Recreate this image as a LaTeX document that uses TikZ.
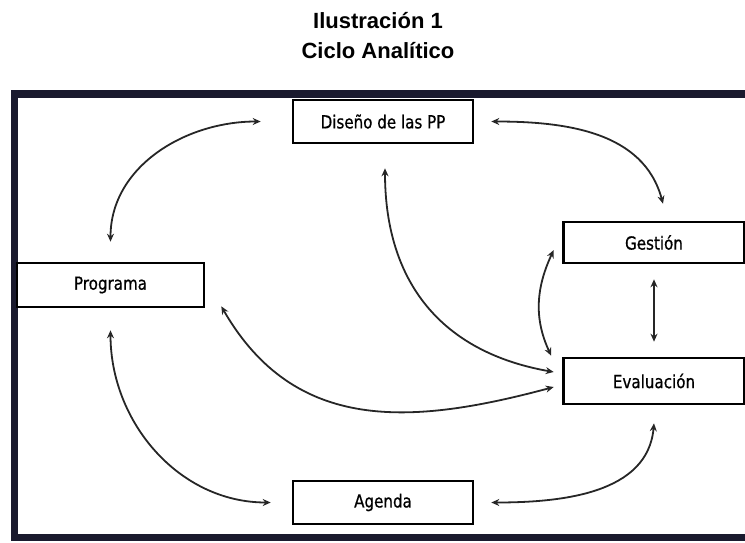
\documentclass[tikz,border=0pt]{standalone}
\usepackage{fontspec}
\setmainfont{Liberation Sans}
\newfontfamily\cajafont[FakeStretch=0.84,FakeBold=0.7]{DejaVu Sans}
\usetikzlibrary{arrows.meta}
\definecolor{marco}{HTML}{1A1A2E}
\tikzset{caja/.style={draw=black, fill=white, line width=2.6pt, minimum width=180pt, minimum height=43pt, inner sep=0pt, font=\cajafont\fontsize{18}{18}\selectfont}}
\tikzset{flecha/.style={{Stealth[length=8pt,width=7pt]}-{Stealth[length=8pt,width=7pt]}, line width=1.8pt, draw=black!85}}
\tikzset{titulo/.style={anchor=base, font=\bfseries\fontsize{22}{22}\selectfont}}

\begin{document}
\begin{tikzpicture}[x=1pt,y=1pt]
\clip (0,0) rectangle (745,-542);
\draw[marco, line width=7.5pt] (14.5,-93.75) rectangle (770,-537.5);
\node (tit1) at (378,-28) [titulo] {Ilustración 1};
\node (tit2) at (378,-58) [titulo] {Ciclo Analítico};

\node (dis) at (383,-121.5) [caja] {Diseño de las PP};
\node (prog) at (110.5,-285) [caja, minimum width=187pt, minimum height=44pt] {Programa};
\node (ges) at (654,-242.5) [caja, minimum width=181pt, minimum height=41pt] {Gestión};
\node (eva) at (654,-381) [caja, minimum width=181pt, minimum height=46pt] {Evaluación};
\node (age) at (383,-502.5) [caja] {Agenda};

\draw[flecha] ([yshift=20pt]prog.north) to[out=90,in=180] ([xshift=-31pt]dis.west);
\draw[flecha] ([xshift=17pt]dis.east) to[out=0,in=105] ([xshift=9pt,yshift=17pt]ges.north);
\draw[flecha] ([yshift=-15pt]ges.south) -- ([yshift=15pt]eva.north);
\draw[flecha] ([xshift=-8.5pt,yshift=-7.5pt]ges.west) to[out=-115,in=115] ([xshift=-11pt,yshift=1pt]eva.north west);
\draw[flecha] ([xshift=2pt,yshift=-24pt]dis.south) to[out=-90,in=170,looseness=1.1] ([xshift=-8.5pt,yshift=9pt]eva.west);
\draw[flecha] ([xshift=16pt,yshift=2pt]prog.south east) to[out=-60,in=-165,looseness=1.1] ([xshift=-8.5pt,yshift=-6pt]eva.west);
\draw[flecha] ([yshift=-22pt]prog.south) to[out=-90,in=180] ([xshift=-21pt]age.west);
\draw[flecha] ([xshift=17pt]age.east) to[out=0,in=-95] ([yshift=-18pt]eva.south);
\end{tikzpicture}
\end{document}
